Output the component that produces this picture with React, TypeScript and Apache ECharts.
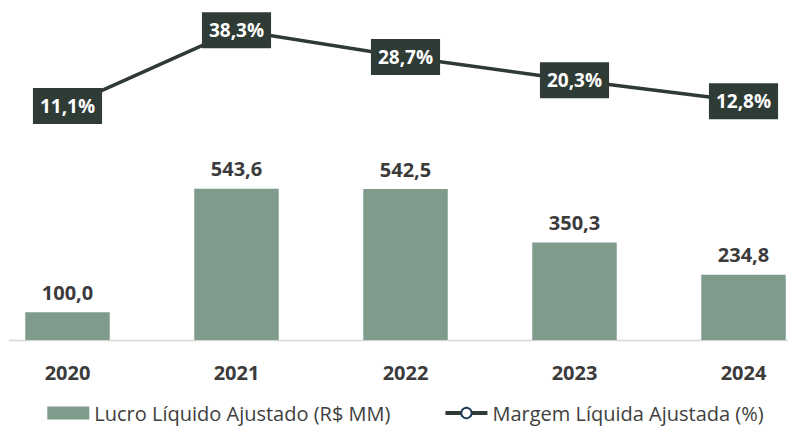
import React, { useEffect, useRef } from "react";
import * as echarts from "echarts";

const categories = ["2020", "2021", "2022", "2023", "2024"];
const lucroValues = [100.0, 543.6, 542.5, 350.3, 234.8];
const margemValues = [11.1, 38.3, 28.7, 20.3, 12.8];
const seriesNames = ["Lucro Líquido Ajustado (R$ MM)", "Margem Líquida Ajustada (%)"];

const fmt = (v: number, d = 1) => v.toFixed(d).replace(".", ",");

const OFFSET = 17;
const CHART_W = 845;

export default function App() {
  const ref = useRef<HTMLDivElement>(null);
  useEffect(() => {
    if (!ref.current) return;
    const chart = echarts.init(ref.current, null, { renderer: "svg" });
    const font = "'Open Sans', 'Noto Sans', sans-serif";
    chart.setOption({
      animation: false,
      backgroundColor: "#ffffff",
      textStyle: { fontFamily: font },
      grid: { left: 0, right: 0, top: 6, height: 334, containLabel: false },
      legend: {
        bottom: 4,
        left: "center",
        itemGap: 53,
        itemWidth: 42,
        itemHeight: 13,
        textStyle: { fontSize: 20, color: "#404040", fontFamily: font },
        data: [
          { name: seriesNames[0], icon: "rect" },
          {
            name: seriesNames[1],
            lineStyle: { width: 4, color: "#2f3a34" },
            itemStyle: { color: "#ffffff", borderColor: "#1f3b55", borderWidth: 2 },
          },
        ],
      },
      xAxis: {
        type: "category",
        data: categories,
        axisLine: { show: false },
        axisTick: { show: false },
        axisLabel: { fontSize: 20, fontWeight: "bold", color: "#3b3b3b", margin: 22, fontFamily: font },
      },
      yAxis: [
        { type: "value", min: 0, max: 1200, show: false, splitLine: { show: false } },
        { type: "value", min: -73, max: 47, show: false, splitLine: { show: false } },
      ],
      graphic: [
        {
          type: "line",
          shape: { x1: 9 + OFFSET, y1: 340.5, x2: 788 + OFFSET, y2: 340.5 },
          style: { stroke: "#d6d6d6", lineWidth: 1.5 },
          z: 1,
        },
      ],
      series: [
        {
          name: seriesNames[0],
          type: "bar",
          data: lucroValues,
          barWidth: "50%",
          itemStyle: { color: "#7e9b8c" },
          label: {
            show: true,
            position: "top",
            distance: 10,
            formatter: (p: any) => fmt(p.value),
            fontSize: 20,
            fontWeight: "bold",
            color: "#3b3b3b",
            fontFamily: font,
          },
          z: 2,
        },
        {
          name: seriesNames[1],
          type: "line",
          yAxisIndex: 1,
          data: margemValues,
          symbol: "circle",
          symbolSize: 10,
          itemStyle: { color: "#ffffff", borderColor: "#1f3b55", borderWidth: 2 },
          lineStyle: { color: "#2f3a34", width: 3.5 },
          label: {
            show: true,
            position: "inside",
            formatter: (p: any) => fmt(p.value) + "%",
            backgroundColor: "#2f3b35",
            color: "#ffffff",
            fontSize: 19,
            fontWeight: "bold",
            lineHeight: 24,
            padding: [6, 7],
            fontFamily: font,
          },
          z: 5,
        },
      ],
    });
    return () => chart.dispose();
  }, []);
  return (
    <div
      ref={ref}
      style={{ position: "fixed", left: -OFFSET, top: 0, width: CHART_W, height: 432, background: "#fff" }}
    />
  );
}
